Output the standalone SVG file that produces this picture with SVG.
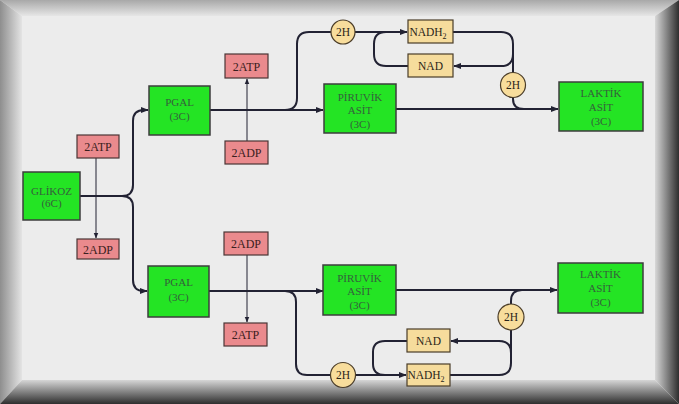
<svg xmlns="http://www.w3.org/2000/svg" width="679" height="404" viewBox="0 0 679 404">
<defs>
<linearGradient id="gT" x1="0" y1="0" x2="0" y2="1"><stop offset="0" stop-color="#a8a8a8"/><stop offset="1" stop-color="#e6e6e6"/></linearGradient>
<linearGradient id="gL" x1="0" y1="0" x2="1" y2="0"><stop offset="0" stop-color="#8e8e8e"/><stop offset="1" stop-color="#e4e4e4"/></linearGradient>
<linearGradient id="gR" x1="0" y1="0" x2="1" y2="0"><stop offset="0" stop-color="#d8d8d8"/><stop offset="1" stop-color="#2e2e2e"/></linearGradient>
<linearGradient id="gB" x1="0" y1="0" x2="0" y2="1"><stop offset="0" stop-color="#d6d6d6"/><stop offset="1" stop-color="#2e2e2e"/></linearGradient>
<marker id="ar" viewBox="0 0 10 10" refX="9" refY="5" markerWidth="8" markerHeight="8" markerUnits="userSpaceOnUse" orient="auto"><path d="M0,1 L10,5 L0,9 Z" fill="#222233"/></marker>
<marker id="as" viewBox="0 0 10 10" refX="9" refY="5" markerWidth="6" markerHeight="6" markerUnits="userSpaceOnUse" orient="auto"><path d="M0,1 L10,5 L0,9 Z" fill="#222233"/></marker>
</defs>
<style>
.g{fill:#24e424;stroke:#3c3c3c;stroke-width:1.5}
.p{fill:#ea8a8d;stroke:#4a3535;stroke-width:1.2}
.n{fill:#f6dc9c;stroke:#4a3c28;stroke-width:1.2}
.c{fill:#f8dd9c;stroke:#4a3c28;stroke-width:1.2}
.tg{font-family:"Liberation Serif",serif;font-size:11px;fill:#35603c;text-anchor:middle}
.tp{font-family:"Liberation Serif",serif;font-size:12px;fill:#3a2020;text-anchor:middle}
.tn{font-family:"Liberation Serif",serif;font-size:11.5px;fill:#2a2418;text-anchor:middle}
.l{fill:none;stroke:#222233;stroke-width:2}
.t{fill:none;stroke:#222233;stroke-width:1}
</style>
<rect x="0" y="0" width="679" height="404" fill="#ececec"/>
<polygon points="0,0 679,0 655,16 22,16" fill="url(#gT)"/>
<polygon points="0,0 22,16 22,380 0,404" fill="url(#gL)"/>
<polygon points="679,0 679,404 655,380 655,16" fill="url(#gR)"/>
<polygon points="0,404 679,404 655,380 22,380" fill="url(#gB)"/>
<g id="connectors">
<path class="l" d="M80 196 L122 196 Q133 196 133 185 L133 121 Q133 110 144 110 L148 110" marker-end="url(#ar)"/>
<path class="l" d="M122 196 Q133 196 133 207 L133 280 Q133 291 144 291 L147 291" marker-end="url(#ar)"/>
<path class="t" d="M96 158 L96 238" marker-end="url(#as)"/>
<path class="l" d="M210 110 L323 110" marker-end="url(#ar)"/>
<path class="t" d="M247 141 L247 79" marker-end="url(#as)"/>
<path class="l" d="M285 110 Q297 110 297 98 L297 44 Q297 32 309 32 L331 32"/>
<path class="l" d="M355 32 L407 32" marker-end="url(#ar)"/>
<path class="l" d="M408 66 L386 66 Q374 66 374 54 L374 44 Q374 32 386 32"/>
<path class="l" d="M453 32 L501 32 Q513 32 513 44 L513 54 Q513 66 501 66 L454 66" marker-end="url(#ar)"/>
<path class="l" d="M513 54 L513 72.5"/>
<path class="l" d="M513 97.5 L513 99 Q513 109 524 109"/>
<path class="l" d="M396 109 L558 109" marker-end="url(#ar)"/>
<path class="l" d="M209 291 L323 291" marker-end="url(#ar)"/>
<path class="t" d="M247 255 L247 322" marker-end="url(#as)"/>
<path class="l" d="M285 291 Q296 291 296 302 L296 364 Q296 375 307 375 L330.5 375"/>
<path class="l" d="M355.5 375 L406 375" marker-end="url(#ar)"/>
<path class="l" d="M407 341 L385 341 Q373 341 373 352 L373 364 Q373 375 385 375"/>
<path class="l" d="M450 375 L499 375 Q511 375 511 363 L511 353 Q511 341 499 341 L451 341" marker-end="url(#ar)"/>
<path class="l" d="M511 353 L511 330"/>
<path class="l" d="M511 304 L511 301 Q511 290 522 290"/>
<path class="l" d="M396 290 L557 290" marker-end="url(#ar)"/>
</g>
<g id="glikoz"><rect class="g" x="23" y="172" width="57" height="48"/><text class="tg" x="51.5" y="195">GLİKOZ</text><text class="tg" x="51.5" y="207">(6C)</text></g>
<g id="atp1"><rect class="p" x="77" y="135" width="42" height="23"/><text class="tp" x="98" y="151">2ATP</text></g>
<g id="adp1"><rect class="p" x="77" y="239" width="42" height="20"/><text class="tp" x="98" y="253.5">2ADP</text></g>
<g id="pgal1"><rect class="g" x="149" y="86" width="61" height="49"/><text class="tg" x="179.5" y="106">PGAL</text><text class="tg" x="179.5" y="120">(3C)</text></g>
<g id="atp2"><rect class="p" x="225" y="54" width="43" height="24"/><text class="tp" x="246.5" y="70.5">2ATP</text></g>
<g id="adp2"><rect class="p" x="225" y="141" width="43" height="23"/><text class="tp" x="246.5" y="157">2ADP</text></g>
<g id="piruvik1"><rect class="g" x="324" y="84" width="72" height="49"/><text class="tg" x="360" y="101">PİRUVİK</text><text class="tg" x="360" y="114">ASİT</text><text class="tg" x="360" y="128">(3C)</text></g>
<g id="h1"><circle class="c" cx="343" cy="32" r="12"/><text class="tn" x="343" y="36">2H</text></g>
<g id="nadh1"><rect class="n" x="408" y="20" width="45" height="23"/><text class="tn" x="428" y="36">NADH<tspan font-size="8px" dy="3">2</tspan></text></g>
<g id="nad1"><rect class="n" x="408" y="54" width="45" height="23"/><text class="tn" x="430.5" y="70">NAD</text></g>
<g id="h2"><circle class="c" cx="513" cy="85" r="12.5"/><text class="tn" x="513" y="89">2H</text></g>
<g id="laktik1"><rect class="g" x="559" y="82" width="84" height="49"/><text class="tg" x="601" y="97">LAKTİK</text><text class="tg" x="601" y="111">ASİT</text><text class="tg" x="601" y="125">(3C)</text></g>
<g id="pgal2"><rect class="g" x="148" y="266" width="61" height="51"/><text class="tg" x="178.5" y="286">PGAL</text><text class="tg" x="178.5" y="301">(3C)</text></g>
<g id="adp3"><rect class="p" x="224" y="232" width="44" height="23"/><text class="tp" x="246" y="248">2ADP</text></g>
<g id="atp3"><rect class="p" x="224" y="323" width="43" height="23"/><text class="tp" x="245.5" y="339">2ATP</text></g>
<g id="piruvik2"><rect class="g" x="323" y="265" width="73" height="50"/><text class="tg" x="359.5" y="282">PİRUVİK</text><text class="tg" x="359.5" y="295">ASİT</text><text class="tg" x="359.5" y="309">(3C)</text></g>
<g id="h3"><circle class="c" cx="343" cy="375" r="12.5"/><text class="tn" x="343" y="379">2H</text></g>
<g id="nad2"><rect class="n" x="407" y="329" width="43" height="23"/><text class="tn" x="428.5" y="345">NAD</text></g>
<g id="nadh2"><rect class="n" x="407" y="364" width="43" height="22"/><text class="tn" x="426" y="379">NADH<tspan font-size="8px" dy="3">2</tspan></text></g>
<g id="h4"><circle class="c" cx="511" cy="317" r="13"/><text class="tn" x="511" y="321">2H</text></g>
<g id="laktik2"><rect class="g" x="558" y="263" width="85" height="50"/><text class="tg" x="600.5" y="278">LAKTİK</text><text class="tg" x="600.5" y="292">ASİT</text><text class="tg" x="600.5" y="306">(3C)</text></g>
</svg>
